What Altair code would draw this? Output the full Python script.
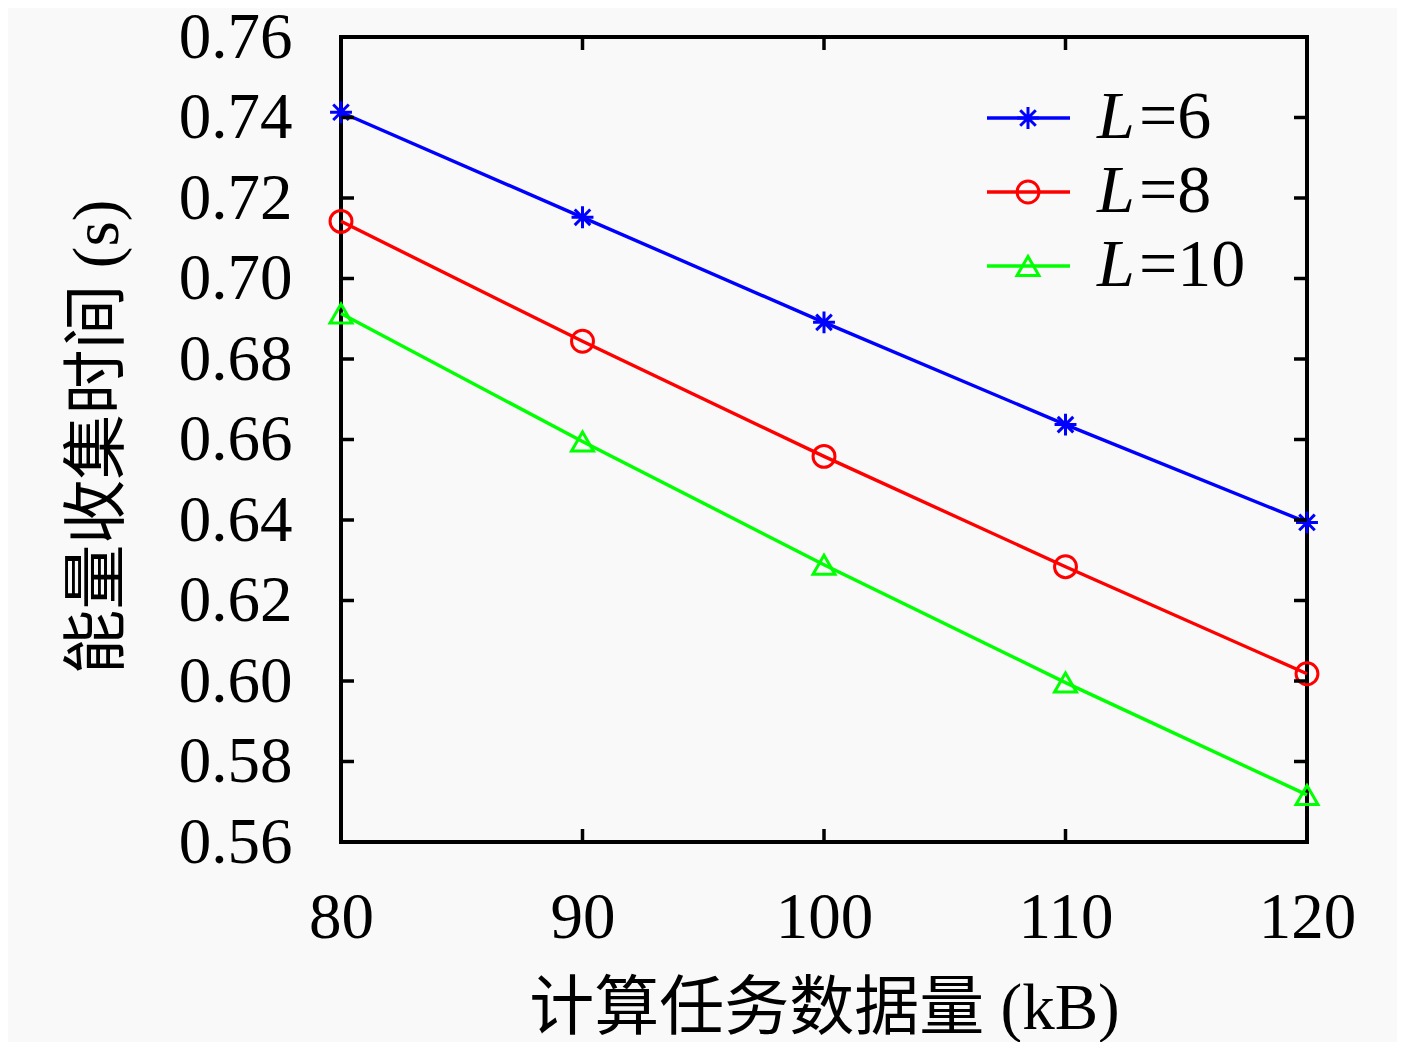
import altair as alt
import pandas as pd

# ---- data ----
data_sizes = [80, 90, 100, 110, 120]
series_names = ["L=6", "L=8", "L=10"]
series_nums = ["6", "8", "10"]
L6 = [0.7413, 0.7152, 0.6891, 0.6637, 0.6394]
L8 = [0.7142, 0.6844, 0.6558, 0.6284, 0.6018]
L10 = [0.6913, 0.6595, 0.6289, 0.5996, 0.5717]
y_ticks = [0.56, 0.58, 0.60, 0.62, 0.64, 0.66, 0.68, 0.70, 0.72, 0.74, 0.76]
x_ticks = [80, 90, 100, 110, 120]

colors = ["#0000ff", "#ff0000", "#00ff00"]
asterisk = "M-1,0L1,0M0,-1L0,1M-0.71,-0.71L0.71,0.71M-0.71,0.71L0.71,-0.71"
shapes = [asterisk, "circle", "triangle-up"]

W, H = 966, 805
FONT = "Liberation Serif, Noto Sans CJK SC"

rows = []
for name, vals in zip(series_names, [L6, L8, L10]):
    for x, v in zip(data_sizes, vals):
        rows.append({"x": x, "y": v, "s": name})
df = pd.DataFrame(rows)

xscale = alt.Scale(domain=[80, 120], nice=False, zero=False)
yscale = alt.Scale(domain=[0.56, 0.76], nice=False, zero=False)
cscale = alt.Scale(domain=series_names, range=colors)
sscale = alt.Scale(domain=series_names, range=shapes)

xaxis = alt.Axis(values=x_ticks, labelPadding=44, labelFlush=False, labelOverlap=False,
                 title="计算任务数据量 (kB)",
                 titleX=W / 2, titleY=186, titleAlign="center",
                 titleBaseline="alphabetic")
yaxis = alt.Axis(values=y_ticks, format=".2f", labelPadding=49, labelFlush=False,
                 labelOverlap=False,
                 title="能量收集时间 (s)", titleX=-244, titleY=H / 2 - 3,
                 titleAlign="center", titleBaseline="middle")

base = alt.Chart(df)
lines = base.mark_line(strokeWidth=3.4).encode(
    x=alt.X("x:Q", scale=xscale, axis=xaxis),
    y=alt.Y("y:Q", scale=yscale, axis=yaxis),
    color=alt.Color("s:N", scale=cscale, legend=None),
    detail="s:N",
)
points = base.mark_point(filled=False, strokeWidth=3, size=480, opacity=1).encode(
    x=alt.X("x:Q", scale=xscale, axis=xaxis),
    y=alt.Y("y:Q", scale=yscale, axis=yaxis),
    color=alt.Color("s:N", scale=cscale, legend=None),
    shape=alt.Shape("s:N", scale=sscale, legend=None),
)

# inner ticks (mirrored on all four sides)
yt = alt.Chart(pd.DataFrame({"y": y_ticks}))
xt = alt.Chart(pd.DataFrame({"x": x_ticks}))
tick_style = dict(color="black", strokeWidth=3.5)
ytl = yt.mark_rule(**tick_style).encode(y=alt.Y("y:Q", scale=yscale, axis=yaxis),
                                        x=alt.value(0), x2=alt.value(13))
ytr = yt.mark_rule(**tick_style).encode(y=alt.Y("y:Q", scale=yscale, axis=yaxis),
                                        x=alt.value(W - 13), x2=alt.value(W))
xtb = xt.mark_rule(**tick_style).encode(x=alt.X("x:Q", scale=xscale, axis=xaxis),
                                        y=alt.value(H - 13), y2=alt.value(H))
xtt = xt.mark_rule(**tick_style).encode(x=alt.X("x:Q", scale=xscale, axis=xaxis),
                                        y=alt.value(0), y2=alt.value(13))

# custom legend
legend_layers = []
row_y = [81, 155, 229]
for i, (name, num) in enumerate(zip(series_names, series_nums)):
    ld = alt.Chart(pd.DataFrame({"s": [name]}))
    ry = row_y[i]
    legend_layers.append(ld.mark_rule(color=colors[i], strokeWidth=3.4).encode(
        x=alt.value(646), x2=alt.value(729), y=alt.value(ry)))
    legend_layers.append(ld.mark_point(filled=False, strokeWidth=3, size=480, opacity=1,
                                       color=colors[i], shape=shapes[i]).encode(
        x=alt.value(687), y=alt.value(ry)))
    legend_layers.append(ld.mark_text(font=FONT, fontSize=68, fontStyle="italic",
                                      align="left", baseline="middle", color="black").encode(
        x=alt.value(756), y=alt.value(ry), text=alt.value("L")))
    legend_layers.append(ld.mark_text(font=FONT, fontSize=68,
                                      align="left", baseline="middle", color="black").encode(
        x=alt.value(798), y=alt.value(ry), text=alt.value("=" + num)))

chart = alt.layer(lines, points, ytl, ytr, xtb, xtt, *legend_layers).properties(
    width=W, height=H,
    autosize=alt.AutoSizeParams(type="none"),
    padding={"left": 333, "top": 29, "right": 90, "bottom": 200},
    background="#f9f9f9",
).configure_view(
    stroke="black", strokeWidth=4
).configure_axis(
    grid=False, domain=False, ticks=False, tickSize=0,
    labelFont=FONT, labelFontSize=65, labelColor="black",
    titleFont=FONT, titleFontSize=65, titleColor="black", titleFontWeight="normal",
)

chart.save("out.html", embed_options={"renderer": "svg", "actions": False})
